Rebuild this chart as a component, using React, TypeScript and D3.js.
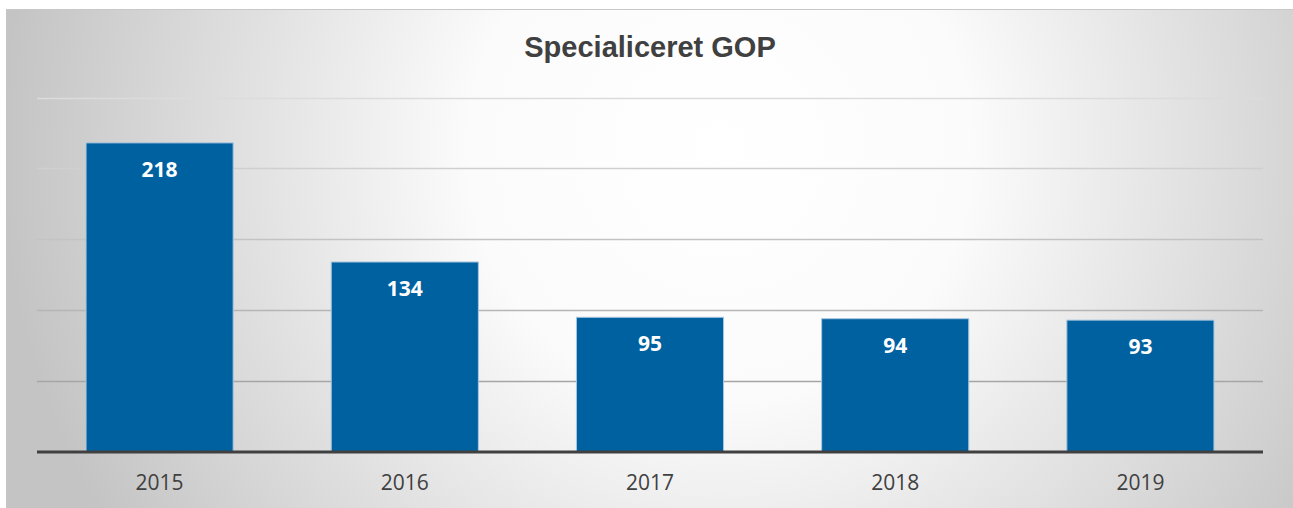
import React from "react";
import * as d3 from "d3";

const categories = ["2015", "2016", "2017", "2018", "2019"];
const values = [218, 134, 95, 94, 93];
const gridTicks = [0, 50, 100, 150, 200, 250];
const title = "Specialiceret GOP";

export default function App() {
  const W = 1293, H = 508;
  const bgX = 6, bgY = 9;
  const left = 37, right = 1263, top = 97.5, bottom = 452;
  const x = d3.scaleBand<string>().domain(categories).range([left, right]).paddingInner(0.4).paddingOuter(0.2);
  const y = d3.scaleLinear().domain([0, 250]).range([bottom, top]);
  return (
    <svg width={W} height={H} style={{ position: "absolute", left: 0, top: 0 }}>
      <defs>
        <radialGradient id="bg" gradientUnits="userSpaceOnUse" cx={720} cy={150} r={720}>
          <stop offset="0" stopColor="#ffffff" />
          <stop offset="0.35" stopColor="#fbfbfb" />
          <stop offset="1" stopColor="#c4c4c4" />
        </radialGradient>
        <linearGradient id="grid" gradientUnits="userSpaceOnUse" x1={0} y1={top} x2={0} y2={bottom}>
          <stop offset="0" stopColor="#dcdcdc" />
          <stop offset="0.5" stopColor="#bdbdbd" />
          <stop offset="1" stopColor="#969696" />
        </linearGradient>
      </defs>
      <rect x={0} y={0} width={W} height={H} fill="#ffffff" />
      <rect x={bgX} y={bgY} width={W - bgX} height={H - bgY} fill="url(#bg)" />
      <line x1={bgX} x2={W} y1={bgY + 0.5} y2={bgY + 0.5} stroke="#c8c8c8" />
      <text x={650} y={57} textAnchor="middle" fontFamily="Liberation Sans, Arial, sans-serif" fontWeight="bold" fontSize={29} fill="#404040">{title}</text>
      {gridTicks.filter(t => t > 0).map(t => (
        <line key={t} x1={left} x2={right} y1={Math.round(y(t)) + 0.5} y2={Math.round(y(t)) + 0.5} stroke="url(#grid)" strokeWidth={1.5} />
      ))}
      {categories.map((c, i) => (
        <g key={c}>
          <rect x={x(c)!} y={y(values[i])} width={x.bandwidth()} height={bottom - y(values[i])} fill="#0061A0" stroke="#a9c6e0" strokeWidth={1} />
          <text x={x(c)! + x.bandwidth() / 2} y={y(values[i]) + 34} textAnchor="middle" fontFamily="Open Sans, sans-serif" fontWeight="bold" fontSize={21} fill="#ffffff">{values[i]}</text>
          <text x={x(c)! + x.bandwidth() / 2} y={490} textAnchor="middle" fontFamily="Open Sans, sans-serif" fontSize={21} fill="#404040">{c}</text>
        </g>
      ))}
      <line x1={left} x2={right} y1={bottom} y2={bottom} stroke="#404040" strokeWidth={3} />
    </svg>
  );
}
